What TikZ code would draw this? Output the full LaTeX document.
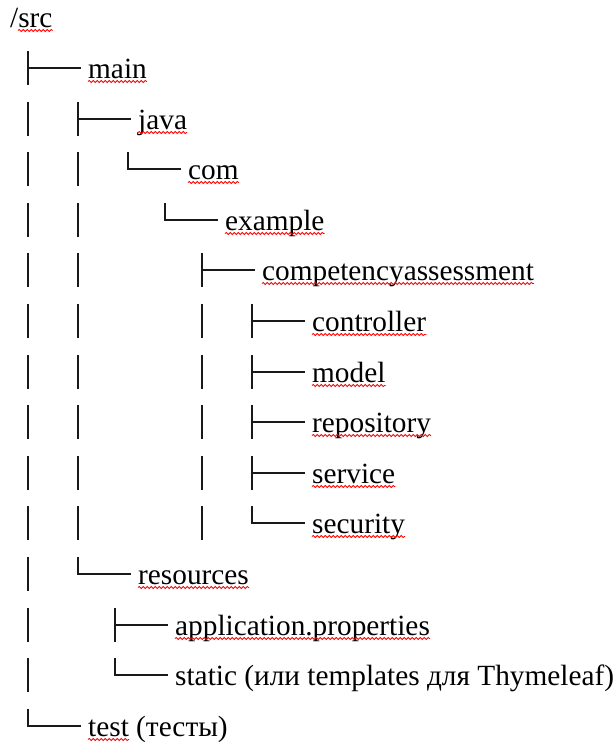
\documentclass[tikz,border=0pt]{standalone}
\usepackage{fontspec}
\setmainfont{Liberation Serif}
\usetikzlibrary{decorations.pathmorphing}

\begin{document}
\begin{tikzpicture}[x=1pt, y=-1pt,
        item/.style={anchor=west, inner xsep=7pt, inner ysep=0pt, text height=22pt, text depth=2pt,
            font=\fontsize{29.3}{35}\selectfont},
        branch/.style={line width=2pt, black!90},
        typo/.style={red, line width=0.8pt, decorate, decoration={snake, amplitude=1.1pt, segment length=4pt}}]
        \useasboundingbox (0,0) rectangle (616,742);

        % Folders and files
        \node [item] (src) at (3,17) {/src};
        \node [item] (main) at (81,68) {main};
        \node [item] (java) at (131,119) {java};
        \node [item] (com) at (181,169) {com};
        \node [item] (example) at (218,220) {example};
        \node [item] (competency) at (255,270) {competencyassessment};
        \node [item] (controller) at (305,321) {controller};
        \node [item] (model) at (305,372) {model};
        \node [item] (repository) at (305,422) {repository};
        \node [item] (service) at (305,473) {service};
        \node [item] (security) at (305,523) {security};
        \node [item] (resources) at (131,574) {resources};
        \node [item] (props) at (168,625) {application.properties};
        \node [item] (static) at (168,675) {static (или templates для Thymeleaf)};
        \node [item] (test) at (81,726) {test (тесты)};

        % Levels of the tree
        \coordinate (l1) at ([xshift=-53pt]main.west);
        \coordinate (l2) at ([xshift=-53pt]java.west);
        \coordinate (l5) at ([xshift=-53pt]competency.west);

        % Branches
        \foreach \n in {main, java, competency, controller, model, repository, service, props}
            \draw [branch] ([shift={(-53,-17)}]\n.west) -- ++(0,34) ++(0,-17) -- (\n.west);
        \foreach \n in {com, example, security, resources, static, test}
            \draw [branch] ([shift={(-53,-17)}]\n.west) |- (\n.west);

        % Continuation bars
        \foreach \n in {java, com, example, competency, controller, model, repository, service, security, resources, props, static}
            \draw [branch] (l1 |- \n.west) ++(0,-17) -- ++(0,34);
        \foreach \n in {com, example, competency, controller, model, repository, service, security}
            \draw [branch] (l2 |- \n.west) ++(0,-17) -- ++(0,34);
        \foreach \n in {controller, model, repository, service, security}
            \draw [branch] (l5 |- \n.west) ++(0,-17) -- ++(0,34);

        % Spelling marks
        \foreach \n in {main, java, com, example, competency, controller, model, repository, service, security, resources, props}
            \draw [typo] ([shift={(7,3.5)}]\n.base west) -- ([shift={(-7,3.5)}]\n.base east);
        \draw [typo] ([shift={(15,3.5)}]src.base west) -- ([shift={(-7,3.5)}]src.base east);
        \draw [typo] ([shift={(7,3.5)}]test.base west) -- ++(41,0);
\end{tikzpicture}
\end{document}
